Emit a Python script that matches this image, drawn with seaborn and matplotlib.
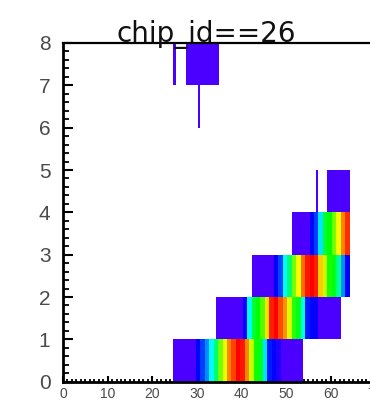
import colorsys
import numpy as np
import pandas as pd
import matplotlib
matplotlib.use("Agg")
import matplotlib.pyplot as plt
from matplotlib.colors import ListedColormap
import seaborn as sns

# ---------------- data ----------------
title_text = "chip_id==26"
x_tick_values = [0, 10, 20, 30, 40, 50, 60, 70]
y_tick_values = [0, 1, 2, 3, 4, 5, 6, 7, 8]
x_range = (0, 70)
n_rows = 8
bin_width = 0.25          # fine x binning of the histogram

# each row: contiguous run of 1-unit bins starting at `start`
row0_start = 24.75
row0_counts = [3, 3, 3, 3, 3, 10, 15, 22, 32, 45, 65, 75, 88, 94, 100, 98, 88,
               72, 56, 52, 30, 12, 10, 7, 3, 3, 3, 3, 3]
row1_start = 34.25
row1_counts = [3, 3, 3, 3, 3, 3, 10, 32, 50, 55, 62, 80, 97, 100, 93, 87, 74,
               58, 52, 35, 12, 10, 9, 3, 3, 3, 3, 3]
row2_start = 42.25
row2_counts = [3, 3, 3, 3, 3, 10, 16, 32, 45, 65, 76, 90, 98, 100, 97, 82, 72,
               57, 53, 42, 22, 10]
row3_start = 51.25
row3_counts = [3, 3, 3, 3, 10, 15, 30, 50, 55, 65, 76, 88, 96]

# isolated low-count segments: (row, x_lo, x_hi, count)
seg_rows = [4, 4, 6, 7, 7, 7]
seg_lo = [56.75, 59.25, 30.25, 24.75, 27.5, 30.25]
seg_hi = [57.25, 64.25, 30.75, 25.25, 35.0, 30.75]
seg_counts = [3, 3, 3, 3, 3, 3]

# ---------------- build the histogram table ----------------
n_cols = int(round((x_range[1] - x_range[0]) / bin_width))
Z = np.full((n_rows, n_cols), np.nan)
sub = int(round(1 / bin_width))


def fill_run(row, start, counts):
    i0 = int(round((start - x_range[0]) / bin_width))
    vals = np.repeat(np.asarray(counts, float), sub)
    Z[row, i0:i0 + len(vals)] = vals


fill_run(0, row0_start, row0_counts)
fill_run(1, row1_start, row1_counts)
fill_run(2, row2_start, row2_counts)
fill_run(3, row3_start, row3_counts)
for r, lo, hi, c in zip(seg_rows, seg_lo, seg_hi, seg_counts):
    i0 = int(round((lo - x_range[0]) / bin_width))
    i1 = int(round((hi - x_range[0]) / bin_width))
    Z[r, i0:i1] = np.where(np.isnan(Z[r, i0:i1]), c, Z[r, i0:i1])

df = pd.DataFrame(Z)

# ROOT-like "pretty" rainbow palette (violet -> red)
hues = np.linspace(265, 0, 256)
cols = [colorsys.hls_to_rgb(h / 360.0, 0.5, 1.0) for h in hues]
root_rainbow = ListedColormap(cols)

# ---------------- plot ----------------
sns.set_theme(style="white")
plt.rcParams["font.family"] = ["Liberation Sans", "DejaVu Sans"]

fig = plt.figure(figsize=(3.7, 4.18), dpi=100)
fig.patch.set_facecolor("white")
ax = fig.add_axes([63 / 370, (418 - 381.7) / 418, (375.4 - 63) / 370, (381.7 - 43) / 418])

sns.heatmap(df, ax=ax, cmap=root_rainbow, vmin=0, vmax=100, cbar=False,
            xticklabels=False, yticklabels=False, linewidths=0)

ax.set_xlim(0, n_cols)
ax.set_ylim(0, n_rows)

for side in ["left", "bottom", "top", "right"]:
    ax.spines[side].set_visible(True)
    ax.spines[side].set_color("black")
ax.spines["left"].set_linewidth(2.0)
ax.spines["bottom"].set_linewidth(2.0)
ax.spines["top"].set_linewidth(1.6)
ax.spines["right"].set_linewidth(1.6)

ax.set_xticks([(v - x_range[0]) / bin_width for v in x_tick_values])
ax.set_xticklabels([str(v) for v in x_tick_values])
ax.set_xticks(np.arange(0, n_cols + 1, sub), minor=True)
ax.set_yticks(y_tick_values)
ax.set_yticklabels([str(v) for v in y_tick_values])
ax.set_yticks(np.arange(0, n_rows + 0.001, 0.2), minor=True)

ax.tick_params(axis="x", which="major", direction="in", length=4.5, width=1.5,
               color="black", labelsize=10, labelcolor="#4a4a4a", pad=4,
               bottom=True, top=False)
ax.tick_params(axis="x", which="minor", direction="in", length=2.5, width=1.3,
               color="black", bottom=True, top=False)
ax.tick_params(axis="y", which="major", direction="in", length=7, width=1.5,
               color="black", labelsize=15, labelcolor="#4a4a4a", pad=9,
               left=True, right=False, labelrotation=0)
ax.tick_params(axis="y", which="minor", direction="in", length=4, width=1.3,
               color="black", left=True, right=False)
ax.set_xlabel("")
ax.set_ylabel("")

fig.text(206 / 370, (418 - 42) / 418, title_text, ha="center", va="baseline",
         fontsize=20, family=["DejaVu Sans"], color="#111111")

fig.savefig("out.png", dpi=100, facecolor="white")
